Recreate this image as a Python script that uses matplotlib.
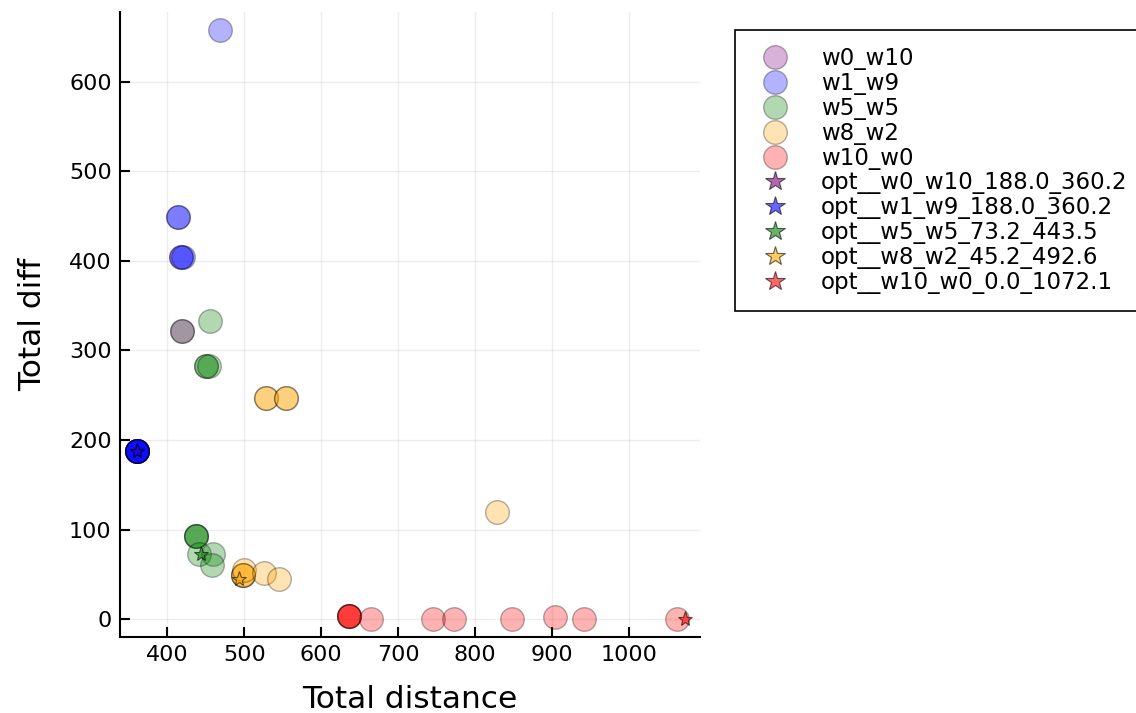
import matplotlib
matplotlib.use("Agg")
import matplotlib.pyplot as plt

# run results per weighting (distance, diff); repeated points are stacked runs
w0_w10_x = [419.0]
w0_w10_y = [322.0]
w1_w9_x = [468.4, 413.5, 413.5, 417.5, 417.5, 421.0] + [360.2] * 8
w1_w9_y = [657.7, 449.0, 449.0, 404.7, 404.7, 404.7] + [188.0] * 8
w5_w5_x = [419.0, 455.5, 449.9, 449.9, 454.0, 437.3, 437.3, 437.3, 441.6, 459.0, 457.7]
w5_w5_y = [322.0, 333.3, 282.7, 282.7, 282.7, 93.3, 93.3, 93.3, 72.5, 73.0, 60.6]
w8_w2_x = [527.8, 527.8, 553.8, 553.8, 498.7, 498.7, 498.7, 499.5, 526.0, 545.5, 828.2]
w8_w2_y = [246.7, 246.7, 246.7, 246.7, 49.4, 49.4, 49.4, 55.0, 52.0, 45.0, 119.4]
w10_w0_x = [636.4, 636.4, 636.4, 636.4, 664.2, 745.1, 771.9, 847.3, 903.0, 940.8, 1062.4]
w10_w0_y = [3.7, 3.7, 3.7, 3.7, 0.0, 0.0, 0.0, 0.0, 2.6, 0.0, 0.0]

names = ["w0_w10", "w1_w9", "w5_w5", "w8_w2", "w10_w0"]
colors = ["purple", "blue", "green", "orange", "red"]
opt_diff = [188.0, 188.0, 73.2, 45.2, 0.0]
opt_dist = [360.2, 360.2, 443.5, 492.6, 1072.1]

xs = [w0_w10_x, w1_w9_x, w5_w5_x, w8_w2_x, w10_w0_x]
ys = [w0_w10_y, w1_w9_y, w5_w5_y, w8_w2_y, w10_w0_y]

plt.rcParams['font.family'] = ['DejaVu Sans']
fig = plt.figure(figsize=(11.36, 7.13), dpi=100)
ax = fig.add_axes([0.1056, 0.1066, 0.5106, 0.8766])

for i in range(5):
    z = 3 if names[i] == "w0_w10" else 2
    ax.plot(xs[i], ys[i], 'o', ms=17, color=colors[i], alpha=0.3,
            mec='black', mew=1, label=names[i], zorder=z)
for i in range(5):
    lab = "opt__%s_%.1f_%.1f" % (names[i], opt_diff[i], opt_dist[i])
    ax.plot([opt_dist[i]], [opt_diff[i]], '*', ms=11, mfc=colors[i], alpha=0.6,
            mec='black', mew=0.8, label=lab, zorder=4)

ax.set_xlim(338.6, 1091.8)
ax.set_ylim(-19.8, 677.8)
ax.set_xticks([400, 500, 600, 700, 800, 900, 1000])
ax.set_yticks([0, 100, 200, 300, 400, 500, 600])
ax.grid(True, color='black', alpha=0.07, lw=1)
ax.set_axisbelow(True)
for s in ['top', 'right']:
    ax.spines[s].set_visible(False)
for s in ['left', 'bottom']:
    ax.spines[s].set_linewidth(1.5)
ax.tick_params(direction='in', length=7, width=1.5, labelsize=16, pad=6)
ax.set_xlabel("Total distance", fontsize=22.5, labelpad=14)
ax.set_ylabel("Total diff", fontsize=22.5, labelpad=16)

leg = fig.legend(loc='upper left', bbox_to_anchor=(735 / 1136, 1 - 30 / 713),
                 fontsize=16.5, frameon=True, fancybox=False, labelspacing=0.08,
                 handletextpad=1.0, borderpad=0.75, borderaxespad=0,
                 framealpha=1, markerscale=1.0)
leg.get_frame().set_edgecolor('black')
leg.get_frame().set_linewidth(1.2)
for h in leg.legend_handles[5:]:
    h.set_markersize(15)

fig.savefig("out.png", dpi=100)
